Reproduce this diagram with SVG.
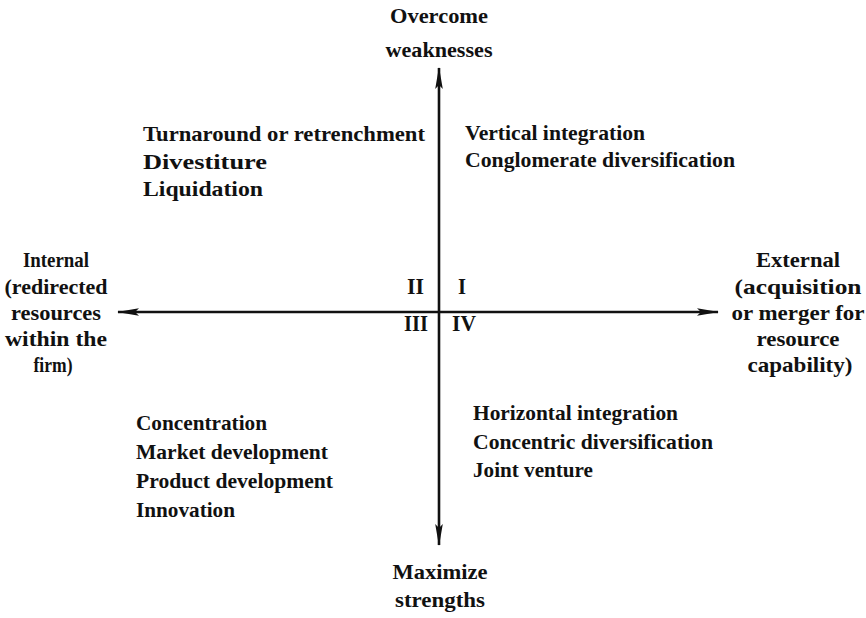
<svg xmlns="http://www.w3.org/2000/svg" width="866" height="618" viewBox="0 0 866 618">
  <defs>
    <marker id="arrow" viewBox="0 0 22 10" markerWidth="22" markerHeight="10" refX="21" refY="5" orient="auto-start-reverse" markerUnits="userSpaceOnUse">
      <path d="M0,1.2 L22,5 L0,8.8 L4,5 Z" fill="#111"/>
    </marker>
    <style>
      text { font-family: "Liberation Serif", "Times New Roman", serif; font-weight: bold; font-size: 22px; fill: #111; }
      .c { text-anchor: middle; }
      .num { font-size: 24px; }
      .axis { stroke: #111; stroke-width: 2.6; fill: none; }
    </style>
  </defs>
  <rect width="866" height="618" fill="#fff"/>

  <g id="connectors">
    <line class="axis" x1="118" y1="312" x2="718" y2="312" marker-start="url(#arrow)" marker-end="url(#arrow)"/>
    <line class="axis" x1="439" y1="68" x2="439" y2="545" marker-start="url(#arrow)" marker-end="url(#arrow)"/>
  </g>

  <g id="top-label">
    <text class="c" x="439" y="23" textLength="98" lengthAdjust="spacingAndGlyphs">Overcome</text>
    <text class="c" x="439" y="57" textLength="107" lengthAdjust="spacingAndGlyphs">weaknesses</text>
  </g>

  <g id="bottom-label">
    <text class="c" x="440" y="579" textLength="95" lengthAdjust="spacingAndGlyphs">Maximize</text>
    <text class="c" x="440" y="607" textLength="90" lengthAdjust="spacingAndGlyphs">strengths</text>
  </g>

  <g id="left-label">
    <text class="c" x="56" y="267" textLength="66" lengthAdjust="spacingAndGlyphs">Internal</text>
    <text class="c" x="56" y="294" textLength="103" lengthAdjust="spacingAndGlyphs">(redirected</text>
    <text class="c" x="56" y="320" textLength="90" lengthAdjust="spacingAndGlyphs">resources</text>
    <text class="c" x="56" y="346" textLength="102" lengthAdjust="spacingAndGlyphs">within the</text>
    <text class="c" x="53" y="372" textLength="39" lengthAdjust="spacingAndGlyphs">firm)</text>
  </g>

  <g id="right-label">
    <text class="c" x="798" y="267" textLength="84" lengthAdjust="spacingAndGlyphs">External</text>
    <text class="c" x="798" y="294" textLength="127" lengthAdjust="spacingAndGlyphs">(acquisition</text>
    <text class="c" x="798" y="320" textLength="133" lengthAdjust="spacingAndGlyphs">or merger for</text>
    <text class="c" x="798" y="346" textLength="83" lengthAdjust="spacingAndGlyphs">resource</text>
    <text class="c" x="800" y="372" textLength="105" lengthAdjust="spacingAndGlyphs">capability)</text>
  </g>

  <g id="quadrant-numbers">
    <text class="num" x="407" y="294" textLength="17" lengthAdjust="spacingAndGlyphs">II</text>
    <text class="num" x="458" y="294" textLength="8" lengthAdjust="spacingAndGlyphs">I</text>
    <text class="num" x="404" y="331" textLength="24" lengthAdjust="spacingAndGlyphs">III</text>
    <text class="num" x="452" y="331" textLength="24" lengthAdjust="spacingAndGlyphs">IV</text>
  </g>

  <g id="quadrant-II">
    <text x="143" y="141" textLength="282" lengthAdjust="spacingAndGlyphs">Turnaround or retrenchment</text>
    <text x="143" y="169" textLength="124" lengthAdjust="spacingAndGlyphs">Divestiture</text>
    <text x="143" y="196" textLength="120" lengthAdjust="spacingAndGlyphs">Liquidation</text>
  </g>

  <g id="quadrant-I">
    <text x="465" y="140" textLength="180" lengthAdjust="spacingAndGlyphs">Vertical integration</text>
    <text x="465" y="167" textLength="270" lengthAdjust="spacingAndGlyphs">Conglomerate diversification</text>
  </g>

  <g id="quadrant-III">
    <text x="136" y="430" textLength="131" lengthAdjust="spacingAndGlyphs">Concentration</text>
    <text x="136" y="459" textLength="192" lengthAdjust="spacingAndGlyphs">Market development</text>
    <text x="136" y="488" textLength="197" lengthAdjust="spacingAndGlyphs">Product development</text>
    <text x="136" y="517" textLength="99" lengthAdjust="spacingAndGlyphs">Innovation</text>
  </g>

  <g id="quadrant-IV">
    <text x="473" y="420" textLength="205" lengthAdjust="spacingAndGlyphs">Horizontal integration</text>
    <text x="473" y="449" textLength="240" lengthAdjust="spacingAndGlyphs">Concentric diversification</text>
    <text x="473" y="477" textLength="120" lengthAdjust="spacingAndGlyphs">Joint venture</text>
  </g>
</svg>
